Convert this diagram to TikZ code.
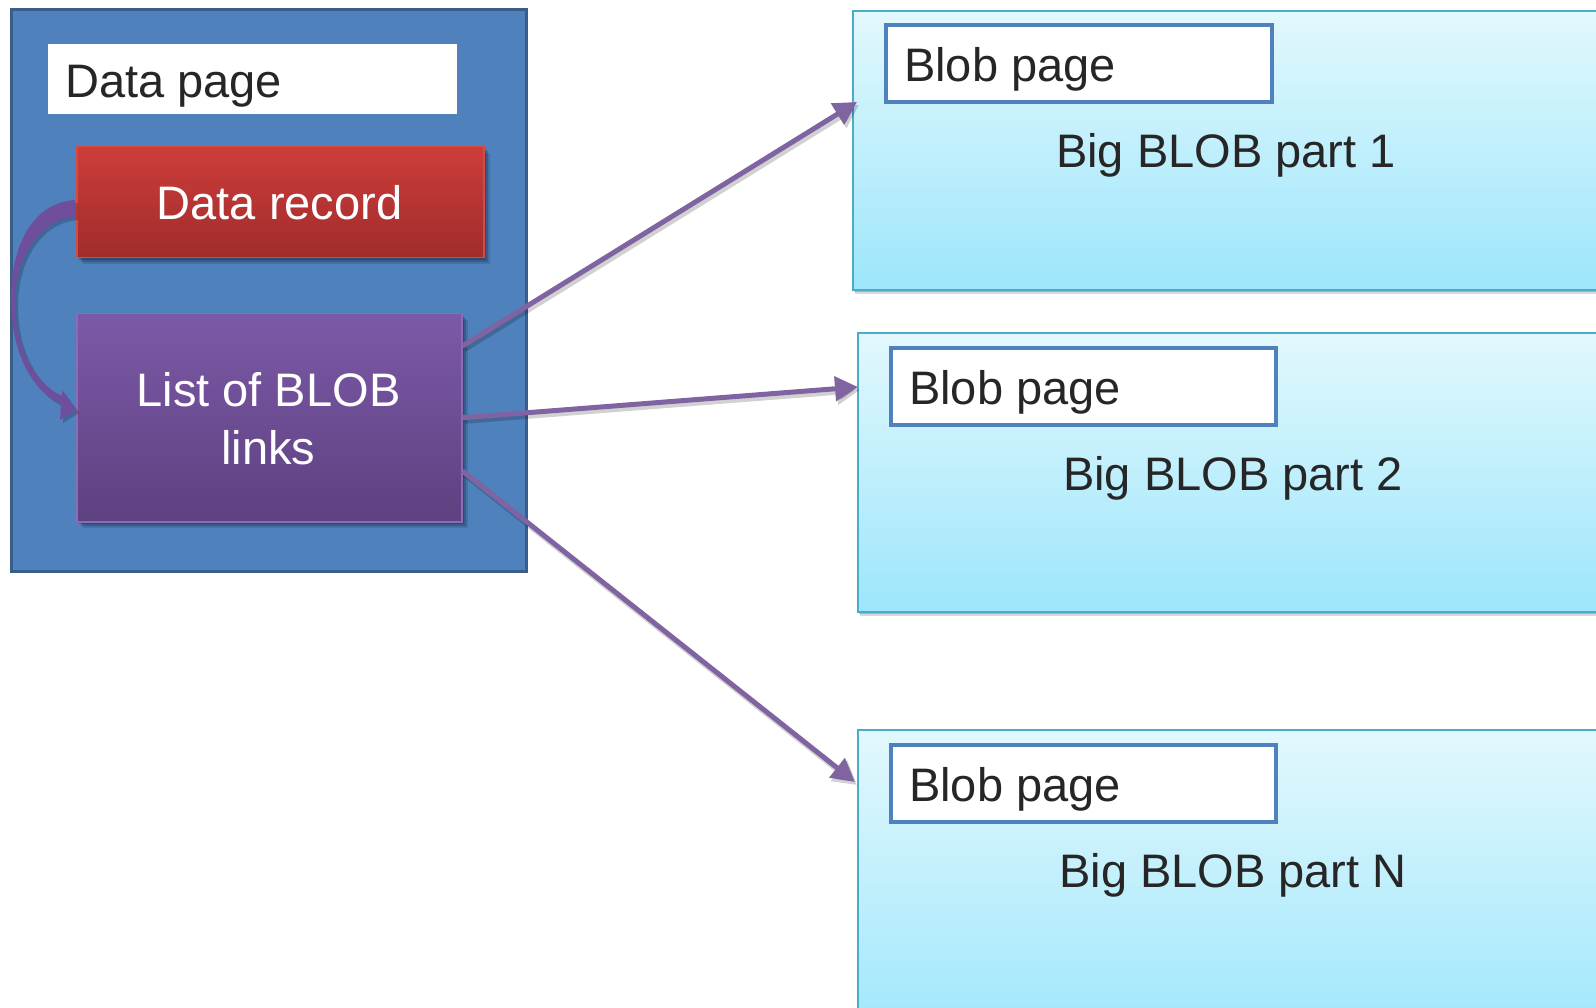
\documentclass[tikz,border=0pt]{standalone}
\usepackage{fontspec}
\setmainfont{Liberation Sans}
\usetikzlibrary{shadows,arrows.meta,calc}
\definecolor{outerblue}{HTML}{4F81BD}
\definecolor{outerline}{HTML}{3A5E8C}
\definecolor{redtop}{HTML}{CD3D3A}
\definecolor{redbot}{HTML}{A02C2C}
\definecolor{redline}{HTML}{D24B46}
\definecolor{purtop}{HTML}{7C59A7}
\definecolor{purbot}{HTML}{5D4180}
\definecolor{purline}{HTML}{8B6CB6}
\definecolor{cyantop}{HTML}{E2F8FD}
\definecolor{cyanbot}{HTML}{9DE6FB}
\definecolor{cyanline}{HTML}{4BACC6}
\definecolor{tagline}{HTML}{4F81BD}
\definecolor{linkcol}{HTML}{8064A2}
\definecolor{curvecol}{HTML}{6F4F9C}
\definecolor{darktext}{HTML}{262626}
\tikzset{
  bigfont/.style={font=\fontsize{47}{58}\selectfont},
  txt/.style={bigfont, text=darktext, inner sep=0pt},
  wtxt/.style={bigfont, text=white, inner sep=0pt},
  softshadow/.style={
     drop shadow={shadow xshift=2pt, shadow yshift=-2pt, opacity=0.18, fill=black},
     drop shadow={shadow xshift=4pt, shadow yshift=-4pt, opacity=0.18, fill=black},
     drop shadow={shadow xshift=6pt, shadow yshift=-6pt, opacity=0.12, fill=black}},
  outerbox/.style={draw=outerline, fill=outerblue, line width=3pt, inner sep=0pt},
  whitebox/.style={fill=white, inner sep=0pt},
  redbox/.style={softshadow, draw=redline, line width=1.5pt, top color=redtop, bottom color=redbot, inner sep=0pt},
  purplebox/.style={softshadow, draw=purline, line width=1.5pt, top color=purtop, bottom color=purbot, inner sep=0pt},
  blobbox/.style={draw=cyanline, line width=2pt, top color=cyantop, bottom color=cyanbot, inner sep=0pt,
     drop shadow={shadow xshift=1pt, shadow yshift=-2pt, opacity=0.2, fill=black},
     drop shadow={shadow xshift=1.5pt, shadow yshift=-4pt, opacity=0.15, fill=black}},
  tagbox/.style={draw=tagline, fill=white, line width=4pt, inner sep=0pt},
  blink/.style={draw=linkcol, line width=5pt, -{Triangle[length=23pt,width=24pt]}},
  blinkshadow/.style={draw=black, opacity=0.18, line width=6pt, -{Triangle[length=23pt,width=25pt]},
     transform canvas={xshift=2pt, yshift=-3pt}},
}
\begin{document}
\begin{tikzpicture}[x=1pt,y=-1pt]
\useasboundingbox (0,0) rectangle (1596,1008);
\clip (0,0) rectangle (1596,1008);

% data page
\node[outerbox, minimum width=515pt, minimum height=562pt, anchor=north west] (page) at (10,8) {};
\node[whitebox, minimum width=409pt, minimum height=70pt, anchor=north west] (dp) at (48,44) {};
\node[txt, anchor=base west] (dpt) at (65,98) {Data page};

\node[redbox, minimum width=407pt, minimum height=111pt, anchor=north west] (dr) at (76,146) {};
\node[wtxt, anchor=base] (drt) at (279.5,220) {Data record};

\node[purplebox, minimum width=385pt, minimum height=208pt, anchor=north west] (list) at (76,313) {};
\node[wtxt, align=center, anchor=center] (listt) at (268.5,419) {List of BLOB\\links};

% curved arrow (shadow, then arrow)
\begin{scope}[transform canvas={xshift=3pt, yshift=-3pt}]
\fill[black, opacity=0.2] (75,200) .. controls (30,203) and (10,250) .. (11,303)
   .. controls (12,350) and (30,390) .. (61,404) -- (60,420) -- (76,410) -- (62,390)
   -- (62,396) .. controls (36,384) and (15,350) .. (15,303)
   .. controls (15,258) and (38,220) .. (75,217) -- cycle;
\end{scope}
\fill[curvecol] (75,200) .. controls (30,203) and (10,250) .. (11,303)
   .. controls (12,350) and (30,390) .. (61,404) -- (60,420) -- (76,410) -- (62,390)
   -- (62,396) .. controls (36,384) and (15,350) .. (15,303)
   .. controls (15,258) and (38,220) .. (75,217) -- cycle;

% blob pages
\node[blobbox, minimum width=760pt, minimum height=279pt, anchor=north west] (b1) at (852,10) {};
\node[tagbox, minimum width=386pt, minimum height=77pt, anchor=north west] (t1) at (883.5,23.5) {};
\node[txt, anchor=base west] (t1t) at (904,81.5) {Blob page};
\node[txt, anchor=base] (p1) at (1226,168) {Big BLOB part 1};

\node[blobbox, minimum width=760pt, minimum height=279pt, anchor=north west] (b2) at (857,332) {};
\node[tagbox, minimum width=385pt, minimum height=77pt, anchor=north west] (t2) at (888.6,346) {};
\node[txt, anchor=base west] (t2t) at (909,404) {Blob page};
\node[txt, anchor=base] (p2) at (1233,490.6) {Big BLOB part 2};

\node[blobbox, minimum width=760pt, minimum height=320pt, anchor=north west] (b3) at (857,729) {};
\node[tagbox, minimum width=385pt, minimum height=77pt, anchor=north west] (t3) at (888.6,743) {};
\node[txt, anchor=base west] (t3t) at (909,801) {Blob page};
\node[txt, anchor=base] (p3) at (1233,887.6) {Big BLOB part N};

% links
\coordinate (s1) at ($(list.north east)+(0,33)$);
\coordinate (s2) at (list.east);
\coordinate (s3) at ($(list.north east)+(0,158)$);
\coordinate (e1) at ($(b1.north west)+(5,92)$);
\coordinate (e2) at ($(b2.north west)+(1,55)$);
\coordinate (e3) at ($(b3.north west)+(-2,53)$);
\draw[blinkshadow] (s1) -- (e1);
\draw[blinkshadow] (s2) -- (e2);
\draw[blinkshadow] (s3) -- (e3);
\draw[blink] (s1) -- (e1);
\draw[blink] (s2) -- (e2);
\draw[blink] (s3) -- (e3);
\end{tikzpicture}
\end{document}
